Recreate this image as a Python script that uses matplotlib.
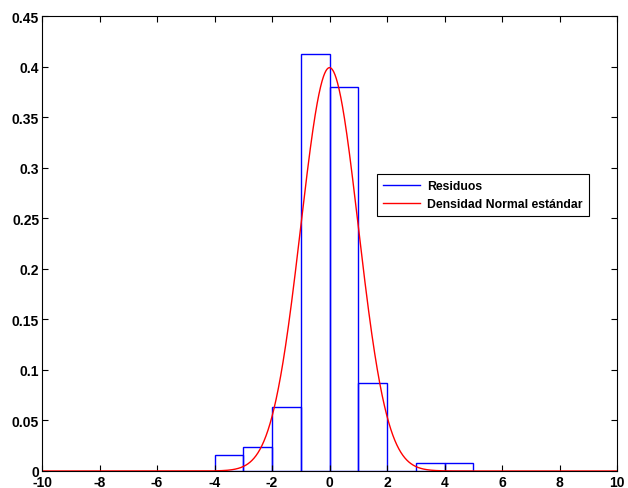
import numpy as np
import matplotlib
matplotlib.use("Agg")
import matplotlib.pyplot as plt
from matplotlib.lines import Line2D

# histogram of residuals (bin edges and normalised heights)
bin_edges = [-4, -3, -2, -1, 0, 1, 2, 3, 4, 5]
bin_heights = [0.016, 0.0235, 0.063, 0.412, 0.380, 0.087, 0.0, 0.008, 0.008]
x_ticks = [-10, -8, -6, -4, -2, 0, 2, 4, 6, 8, 10]
y_ticks = [0, 0.05, 0.1, 0.15, 0.2, 0.25, 0.3, 0.35, 0.4, 0.45]
y_labels = ["0", "0.05", "0.1", "0.15", "0.2", "0.25", "0.3", "0.35", "0.4", "0.45"]

plt.rcParams["font.family"] = ["Liberation Sans", "DejaVu Sans"]
plt.rcParams["font.weight"] = "bold"
plt.rcParams["axes.unicode_minus"] = False

fig = plt.figure(figsize=(6.28, 4.89), dpi=100)
ax = fig.add_axes([0.0669, 0.0348, 0.9157, 0.9304])

widths = np.diff(bin_edges)
ax.bar(bin_edges[:-1], bin_heights, width=widths, align="edge",
       fill=False, edgecolor="blue", linewidth=1.0)

# standard normal density
xs = np.linspace(-10, 10, 2001)
ax.plot(xs, np.exp(-xs**2 / 2) / np.sqrt(2 * np.pi), color="red", lw=1.0)

ax.set_xlim(-10, 10)
ax.set_ylim(0, 0.45)
ax.set_xticks(x_ticks)
ax.set_yticks(y_ticks)
ax.set_yticklabels(y_labels)
ax.tick_params(direction="in", length=4, width=0.8, top=True, right=True,
               labelsize=10, pad=2)
ax.tick_params(axis="x", pad=3)
for s in ax.spines.values():
    s.set_linewidth(0.8)

handles = [Line2D([], [], color="blue", lw=1), Line2D([], [], color="red", lw=1)]
leg = ax.legend(handles, ["Residuos", "Densidad Normal estándar"],
                loc="upper left", bbox_to_anchor=(0.583, 0.653), borderaxespad=0,
                fancybox=False, framealpha=1, edgecolor="black",
                fontsize=8.8, handlelength=3.0, borderpad=0.5,
                labelspacing=0.5, handletextpad=0.6)
leg.get_frame().set_linewidth(0.8)

fig.savefig("out.png", dpi=100)
